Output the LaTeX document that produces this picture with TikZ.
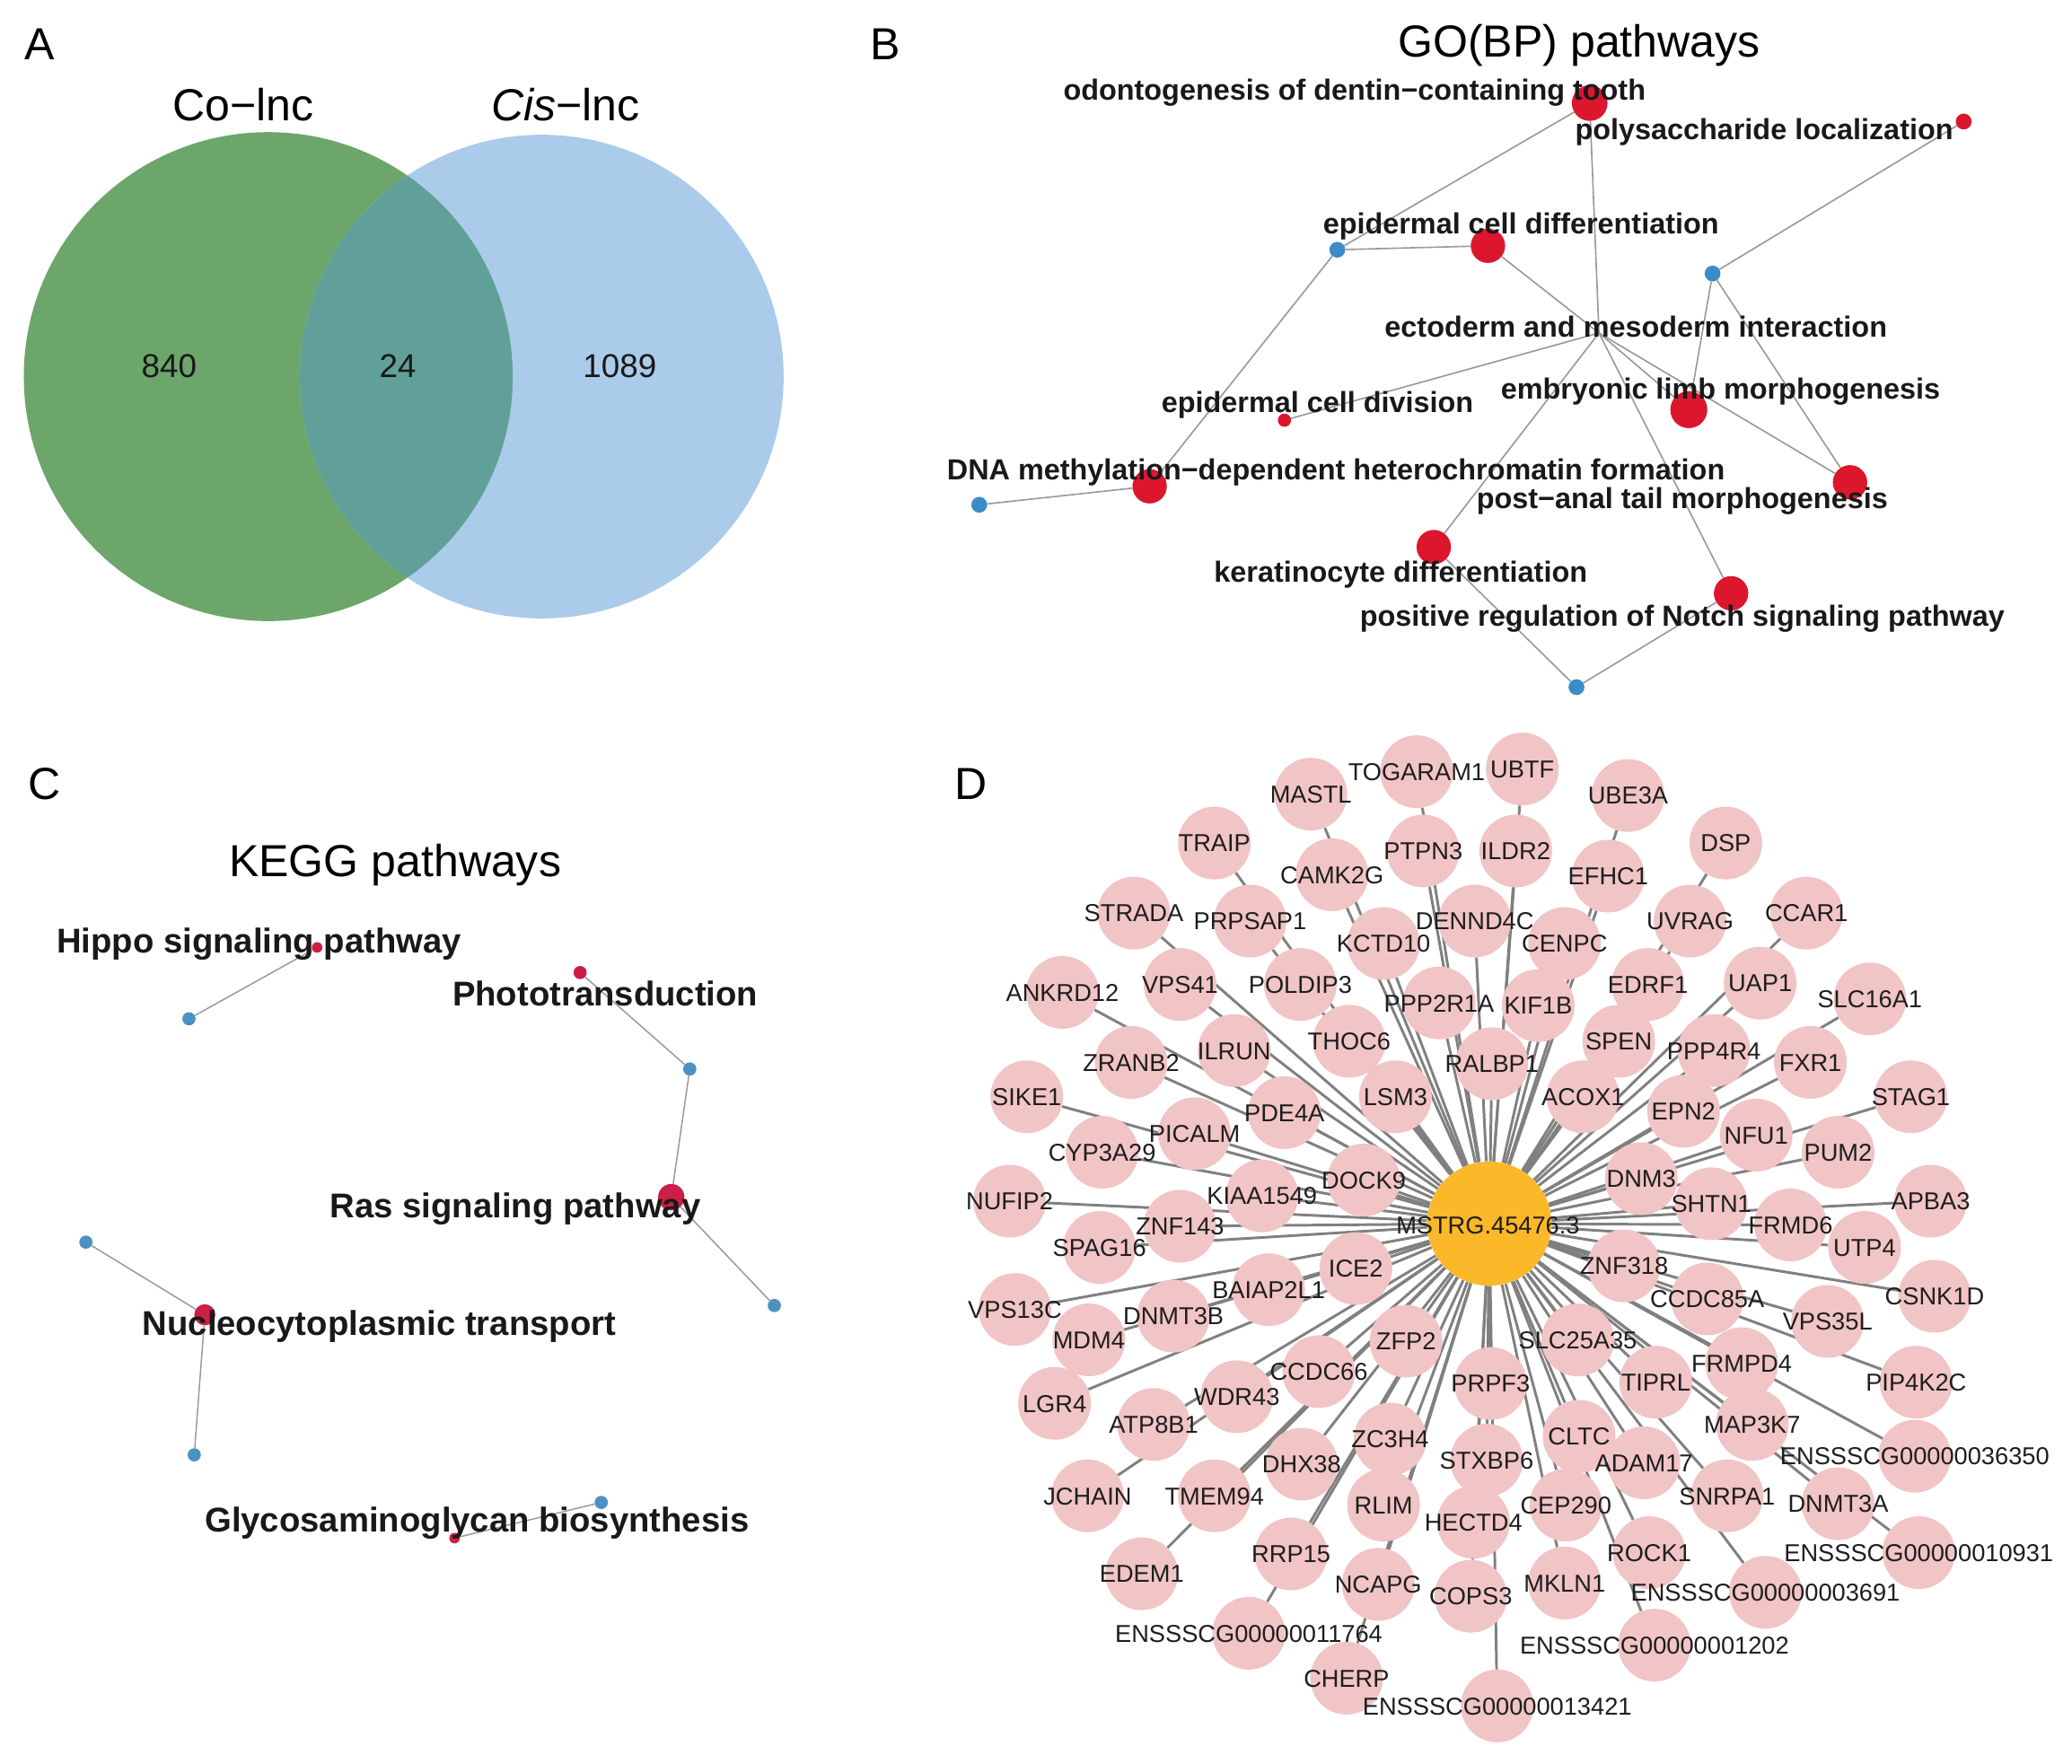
\documentclass[tikz,border=0pt]{standalone}
\usepackage{fontspec}
\setmainfont{Liberation Sans}
\usetikzlibrary{backgrounds}
\definecolor{vgreen}{RGB}{108,166,106}
\definecolor{vblue}{RGB}{170,203,233}
\definecolor{vmix}{RGB}{96,160,152}
\definecolor{gored}{RGB}{220,22,45}
\definecolor{goblue}{RGB}{60,140,200}
\definecolor{kred}{RGB}{205,30,70}
\definecolor{kblue}{RGB}{75,145,195}
\definecolor{pnk}{RGB}{241,196,197}
\definecolor{orng}{RGB}{251,184,40}
\definecolor{edg}{RGB}{128,128,128}
\definecolor{lbl}{RGB}{30,30,30}
\def\genelist{1/1072/584/TOGARAM1, 2/1152/582/UBTF, 3/992/601/MASTL, 4/1232/602/UBE3A,
5/919/638/TRAIP, 6/1306/638/DSP, 7/1008/662/CAMK2G, 8/1077/644/PTPN3, 9/1147/644/ILDR2,
10/1217/663/EFHC1, 11/858/691/STRADA, 12/946/697/PRPSAP1, 13/1116/697/DENND4C,
14/1047/714/KCTD10, 15/1184/714/CENPC, 16/1279/697/UVRAG, 17/1367/691/CCAR1,
18/804/751/ANKRD12, 19/893/745/VPS41, 20/984/745/POLDIP3, 21/1089/759/PPP2R1A,
22/1164/761/KIF1B, 23/1247/745/EDRF1, 24/1332/744/UAP1, 25/1415/756/SLC16A1,
26/856/804/ZRANB2, 27/934/795/ILRUN, 28/1021/788/THOC6, 29/1129/805/RALBP1,
30/1225/788/SPEN, 31/1297/795/PPP4R4, 32/1370/804/FXR1, 33/1446/830/STAG1,
34/777/830/SIKE1, 35/904/858/PICALM, 36/972/842/PDE4A, 37/1056/830/LSM3,
38/1198/830/ACOX1, 39/1274/841/EPN2, 40/1329/859/NFU1, 41/1391/872/PUM2,
42/834/872/CYP3A29, 43/1032/893/DOCK9, 44/1242/892/DNM3, 45/955/905/KIAA1549,
46/764/909/NUFIP2, 47/1295/911/SHTN1, 48/1461/909/APBA3, 49/893/928/ZNF143,
50/832/944/SPAG16, 51/1355/927/FRMD6, 52/1411/944/UTP4, 53/1026/960/ICE2,
54/1229/958/ZNF318, 55/960/976/BAIAP2L1, 56/1464/981/CSNK1D, 57/1292/983/CCDC85A,
58/768/991/VPS13C, 59/888/996/DNMT3B, 60/1383/1000/VPS35L, 61/824/1014/MDM4,
62/1064/1015/ZFP2, 63/1194/1014/SLC25A35, 64/998/1038/CCDC66, 65/1128/1047/PRPF3,
66/1318/1032/FRMPD4, 67/1450/1046/PIP4K2C, 68/1253/1046/TIPRL, 69/798/1062/LGR4,
70/936/1057/WDR43, 71/873/1078/ATP8B1, 72/1326/1078/MAP3K7, 73/1052/1089/ZC3H4,
74/1195/1087/CLTC, 75/1449/1102/ENSSSCG00000036350, 76/985/1108/DHX38,
77/1125/1105/STXBP6, 78/1244/1107/ADAM17, 79/823/1132/JCHAIN, 80/919/1132/TMEM94,
81/1047/1139/RLIM, 82/1307/1132/SNRPA1, 83/1391/1138/DNMT3A, 84/1115/1152/HECTD4,
85/1185/1139/CEP290, 86/1248/1175/ROCK1, 87/977/1176/RRP15,
88/1452/1175/ENSSSCG00000010931, 89/864/1191/EDEM1, 90/1043/1199/NCAPG,
91/1184/1198/MKLN1, 92/1113/1208/COPS3, 93/1336/1205/ENSSSCG00000003691,
94/945/1236/ENSSSCG00000011764, 95/1252/1245/ENSSSCG00000001202, 96/1019/1270/CHERP,
97/1133/1291/ENSSSCG00000013421}
\begin{document}
\begin{tikzpicture}[x=1pt,y=-1pt,
  lab/.style={inner sep=0pt, anchor=center, text depth=0pt},
  ttl/.style={lab, font=\fontsize{34}{34}\selectfont, text height=24.4pt, text=black},
  num/.style={lab, font=\fontsize{25}{25}\selectfont, text height=18pt, text=black!90},
  blab/.style={lab, font=\fontsize{22}{22}\selectfont\bfseries, text height=15.8pt, text=black!90},
  clab/.style={lab, font=\fontsize{26}{26}\selectfont\bfseries, text height=18.7pt, text=black!90},
  dlab/.style={lab, font=\fontsize{18.5}{18.5}\selectfont, text height=13.3pt, text=lbl},
  rnode/.style={circle, fill=gored, inner sep=0pt, draw=none},
  bnode/.style={circle, fill=goblue, inner sep=0pt, draw=none, minimum size=12pt},
  krnode/.style={circle, fill=kred, inner sep=0pt, draw=none},
  kbnode/.style={circle, fill=kblue, inner sep=0pt, draw=none, minimum size=10pt},
  pnode/.style={circle, fill=pnk, inner sep=0pt, draw=none, minimum size=55pt},
  bedge/.style={draw=black!40, line width=1.1pt},
  kedge/.style={draw=black!40, line width=1pt},
  dedge/.style={draw=edg, line width=2pt}]
\useasboundingbox (0,0) rectangle (1568,1334.3);
\begin{scope}[on background layer]
  \fill[white] (0,0) rectangle (1568,1334.3);
\end{scope}

% ---------------- Panel A ----------------
\node[ttl] (pA) at (30,33) {A};
\node[circle, fill=vgreen, minimum size=370pt, inner sep=0pt] (cgreen) at (203,285) {};
\node[circle, fill=vblue, minimum size=366pt, inner sep=0pt] (cblue) at (410,285) {};
\begin{scope}
  \clip (203,285) circle (185pt);
  \fill[vmix] (410,285) circle (183pt);
\end{scope}
\node[ttl] (tco) at (184,79) {Co−lnc};
\node[ttl] (tcis) at (428,79) {{\itshape Cis}−lnc};
\node[num] (n840) at (128,277) {840};
\node[num] (n24) at (301,277) {24};
\node[num] (n1089) at (469,277) {1089};

% ---------------- Panel B ----------------
\node[ttl] (pB) at (670,33) {B};
\node[ttl] (tgo) at (1195,31) {GO(BP) pathways};
\node[rnode, minimum size=27pt] (odo) at (1203,78) {};
\node[rnode, minimum size=12pt] (poly) at (1486,92) {};
\node[bnode] (b1) at (1012,189) {};
\node[rnode, minimum size=26pt] (epi) at (1126,186) {};
\node[bnode] (b2) at (1296,207) {};
\coordinate (hub) at (1210,252);
\node[rnode, minimum size=10pt] (div) at (972,318) {};
\node[rnode, minimum size=28pt] (limb) at (1278,310) {};
\node[rnode, minimum size=26pt] (dna) at (870,368) {};
\node[bnode] (b4) at (741,382) {};
\node[rnode, minimum size=26pt] (post) at (1400,365) {};
\node[rnode, minimum size=26pt] (ker) at (1085,414) {};
\node[rnode, minimum size=26pt] (notch) at (1310,449) {};
\node[bnode] (b3) at (1193,520) {};
\begin{scope}[on background layer]
  \draw[bedge] (b1) -- (odo);
  \draw[bedge] (b1) -- (epi);
  \draw[bedge] (b1) -- (dna);
  \draw[bedge] (b4) -- (dna);
  \draw[bedge] (hub) -- (odo);
  \draw[bedge] (hub) -- (epi);
  \draw[bedge] (hub) -- (div);
  \draw[bedge] (hub) -- (ker);
  \draw[bedge] (hub) -- (limb);
  \draw[bedge] (hub) -- (post);
  \draw[bedge] (hub) -- (notch);
  \draw[bedge] (b2) -- (poly);
  \draw[bedge] (b2) -- (limb);
  \draw[bedge] (b2) -- (post);
  \draw[bedge] (b3) -- (ker);
  \draw[bedge] (b3) -- (notch);
\end{scope}
\node[blab] (lodo) at (1025,68) {odontogenesis of dentin−containing tooth};
\node[blab] (lpoly) at (1335,98) {polysaccharide localization};
\node[blab] (lepi) at (1151,169) {epidermal cell differentiation};
\node[blab] (lecto) at (1238,247) {ectoderm and mesoderm interaction};
\node[blab] (ldiv) at (997,304) {epidermal cell division};
\node[blab] (llimb) at (1302,294) {embryonic limb morphogenesis};
\node[blab] (ldna) at (1011,355) {DNA methylation−dependent heterochromatin formation};
\node[blab] (lpost) at (1273,377) {post−anal tail morphogenesis};
\node[blab] (lker) at (1060,433) {keratinocyte differentiation};
\node[blab] (lnotch) at (1273,466) {positive regulation of Notch signaling pathway};

% ---------------- Panel C ----------------
\node[ttl] (pC) at (34,593) {C};
\node[ttl] (tkegg) at (299,651) {KEGG pathways};
\node[krnode, minimum size=8pt] (hip) at (240,717) {};
\node[kbnode] (c1) at (143,771) {};
\node[krnode, minimum size=10pt] (pho) at (439,736) {};
\node[kbnode] (c2) at (522,809) {};
\node[krnode, minimum size=20pt] (ras) at (508,906) {};
\node[kbnode] (c3) at (586,988) {};
\node[kbnode] (c4) at (65,940) {};
\node[krnode, minimum size=16pt] (nuc) at (155,995) {};
\node[kbnode] (c5) at (147,1101) {};
\node[kbnode] (c6) at (455,1137) {};
\node[krnode, minimum size=8pt] (gly) at (344,1164) {};
\begin{scope}[on background layer]
  \draw[kedge] (c1) -- (hip);
  \draw[kedge] (c2) -- (pho);
  \draw[kedge] (c2) -- (ras);
  \draw[kedge] (ras) -- (c3);
  \draw[kedge] (c4) -- (nuc);
  \draw[kedge] (nuc) -- (c5);
  \draw[kedge] (c6) -- (gly);
\end{scope}
\node[clab] (lhip) at (196,712) {Hippo signaling pathway};
\node[clab] (lpho) at (458,752) {Phototransduction};
\node[clab] (lras) at (390,912) {Ras signaling pathway};
\node[clab] (lnuc) at (287,1001) {Nucleocytoplasmic transport};
\node[clab] (lgly) at (361,1150) {Glycosaminoglycan biosynthesis};

% ---------------- Panel D ----------------
\node[ttl] (pD) at (735,593) {D};
\foreach \i/\x/\y/\t in \genelist {
  \node[pnode] (g\i) at (\x,\y) {};
}
\node[circle, fill=orng, minimum size=94pt, inner sep=0pt] (ctr) at (1127,926) {};
\begin{scope}[on background layer]
  \foreach \i/\x/\y/\t in \genelist {
    \draw[dedge] (ctr) -- (g\i);
  }
\end{scope}
\foreach \i/\x/\y/\t in \genelist {
  \node[dlab] (t\i) at (\x,\y) {\t};
}
\node[dlab] (tctr) at (1126,927) {MSTRG.45476.3};
\end{tikzpicture}
\end{document}
